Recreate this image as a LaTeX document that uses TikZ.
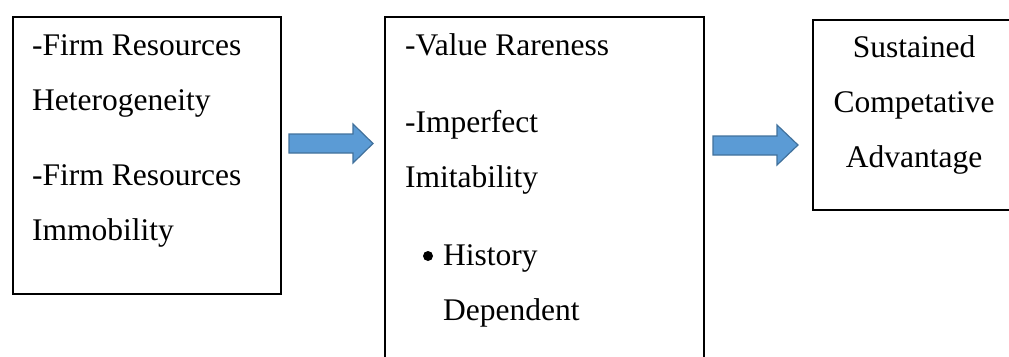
\documentclass[tikz,border=0pt]{standalone}
\usepackage{fontspec}
\setmainfont{Liberation Serif}
\newfontfamily\boxfont{Liberation Serif}
\begin{document}
\begin{tikzpicture}[x=1pt,y=-1pt,
  box/.style={draw=black,line width=1.8pt,inner sep=0pt,anchor=north west},
  txt/.style={anchor=base west,inner sep=0pt,font=\boxfont\fontsize{31.5}{38}\selectfont},
  ctxt/.style={anchor=base,inner sep=0pt,font=\boxfont\fontsize{31.5}{38}\selectfont},
  blockarrow/.style={fill=arrowfill,draw=arrowline,line width=1.2pt,line join=miter}]
\definecolor{arrowfill}{HTML}{5B9BD5}
\definecolor{arrowline}{HTML}{41719C}
\useasboundingbox (0,0) rectangle (1009,356);
\clip (0,0) rectangle (1009,356);

% boxes
\node[box,minimum width=268pt,minimum height=277pt] (b1) at (12,16) {};
\node[box,minimum width=319pt,minimum height=360pt] (b2) at (384,16) {};
\node[box,minimum width=210pt,minimum height=190pt] (b3) at (812,19) {};

% first box
\node[txt] (t11) at (32,55) {-Firm Resources};
\node[txt] (t12) at (32,110) {Heterogeneity};
\node[txt] (t13) at (32,185) {-Firm Resources};
\node[txt] (t14) at (32,240) {Immobility};

% second box
\node[txt] (t21) at (405,55) {-Value Rareness};
\node[txt] (t22) at (405,132) {-Imperfect};
\node[txt] (t23) at (405,187) {Imitability};
\node[circle,fill=black,inner sep=0pt,minimum size=10pt] (dot) at (428,256) {};
\node[txt] (t24) at (443,265) {History};
\node[txt] (t25) at (443,320) {Dependent};

% third box
\node[ctxt] (t31) at (914,57) {Sustained};
\node[ctxt] (t32) at (914,112) {Competative};
\node[ctxt] (t33) at (914,167) {Advantage};

% block arrows between the boxes
\path[blockarrow] (289,134) -- (353,134) -- (353,124) -- (373,143.5)
  -- (353,163) -- (353,153) -- (289,153) -- cycle;
\path[blockarrow] (713,136) -- (777,136) -- (777,125) -- (798,145)
  -- (777,165) -- (777,155) -- (713,155) -- cycle;
\end{tikzpicture}
\end{document}
